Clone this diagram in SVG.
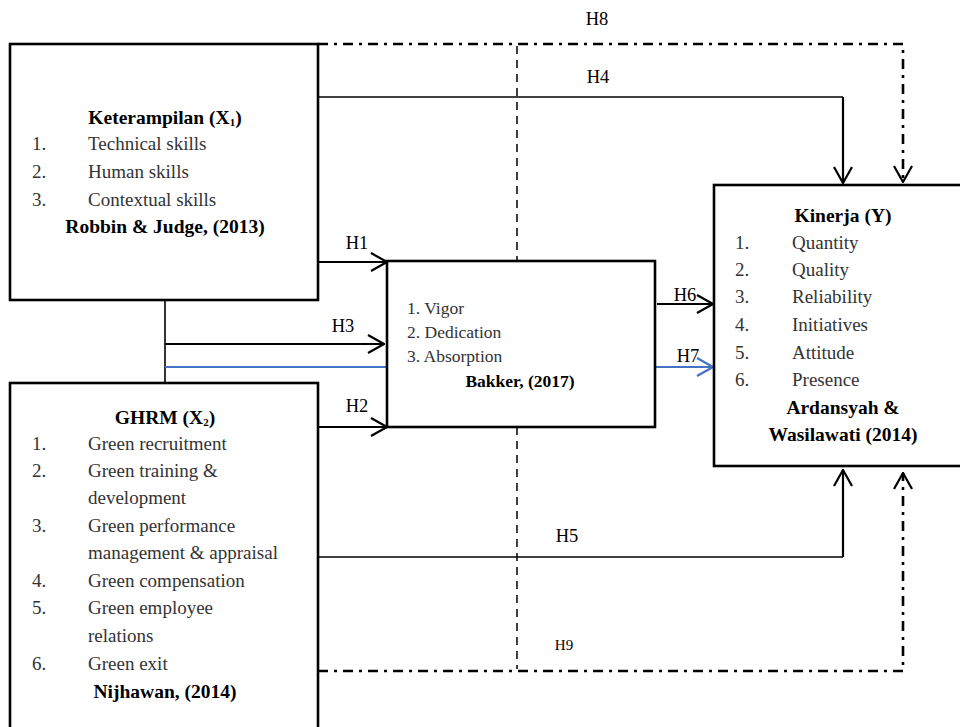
<svg xmlns="http://www.w3.org/2000/svg" width="960" height="727" viewBox="0 0 960 727">
<style>
  text { font-family: "Liberation Serif", "Times New Roman", serif; }
  .box { fill: #fff; stroke: #000; stroke-width: 2.6; }
  .item { font-size: 19px; fill: #333; }
  .head { font-size: 19.5px; font-weight: bold; fill: #000; }
  .small { font-size: 17.5px; fill: #333; }
  .smallb { font-size: 17.5px; font-weight: bold; fill: #000; }
  .lbl { font-size: 18.5px; fill: #000; }
  .ln { fill: none; stroke: #000; stroke-width: 2.2; }
  .thin { fill: none; stroke: #000; stroke-width: 1.3; }
  .blue { fill: none; stroke: #4472C4; stroke-width: 2.2; }
  .dd { fill: none; stroke: #000; stroke-width: 2.6; stroke-dasharray: 10 6 3 6; }
  .dash { fill: none; stroke: #000; stroke-width: 1.5; stroke-dasharray: 8 6; }
</style>
<defs>
  <marker id="arr" viewBox="0 0 18 20" refX="17" refY="10" markerWidth="18" markerHeight="20" markerUnits="userSpaceOnUse" orient="auto">
    <path d="M1,1 L17,10 L1,19" fill="none" stroke="#000" stroke-width="2.2"/>
  </marker>
  <marker id="arrb" viewBox="0 0 18 20" refX="17" refY="10" markerWidth="18" markerHeight="20" markerUnits="userSpaceOnUse" orient="auto">
    <path d="M1,1 L17,10 L1,19" fill="none" stroke="#4472C4" stroke-width="2.2"/>
  </marker>
</defs>

<rect width="960" height="727" fill="#fff"/>

<g id="connectors">
  <path class="dd" d="M318,44 L903,44 L903,182" marker-end="url(#arr)"/>
  <path class="dd" d="M318,671 L903,671 L903,473" marker-end="url(#arr)"/>
  <path class="dash" d="M517,46 L517,261"/>
  <path class="dash" d="M517,427 L517,669"/>
  <path class="thin" d="M318,97 L843,97"/>
  <path class="ln" d="M843,97 L843,183" marker-end="url(#arr)"/>
  <path class="thin" d="M318,557 L843,557"/>
  <path class="ln" d="M843,557 L843,470" marker-end="url(#arr)"/>
  <path class="thin" d="M165,300 L165,383" style="stroke-width:1.6"/>
  <path class="ln" d="M319,262 L387,262" marker-end="url(#arr)"/>
  <path class="ln" d="M165,344 L384,344" marker-end="url(#arr)"/>
  <path class="blue" d="M165,367 L387,367"/>
  <path class="blue" d="M655,367 L713,367" marker-end="url(#arrb)"/>
  <path class="ln" d="M319,427 L387,427" marker-end="url(#arr)"/>
  <path class="ln" d="M657,304 L713,304" marker-end="url(#arr)"/>

  <text class="lbl" x="597" y="25" text-anchor="middle">H8</text>
  <text class="lbl" x="598" y="83" text-anchor="middle">H4</text>
  <text class="lbl" x="357" y="249" text-anchor="middle">H1</text>
  <text class="lbl" x="343" y="332" text-anchor="middle">H3</text>
  <text class="lbl" x="357" y="412" text-anchor="middle">H2</text>
  <text class="lbl" x="685" y="301" text-anchor="middle">H6</text>
  <text class="lbl" x="688" y="362" text-anchor="middle">H7</text>
  <text class="lbl" x="567" y="542" text-anchor="middle">H5</text>
  <text class="lbl" x="564" y="650" text-anchor="middle" style="font-size:15px">H9</text>
</g>

<g id="x1">
  <rect class="box" x="10" y="44" width="308" height="256"/>
  <text class="head" x="165" y="124" text-anchor="middle">Keterampilan (X<tspan font-size="11" dy="2">1</tspan><tspan dy="-2">)</tspan></text>
  <text class="item" x="32" y="150">1.</text><text class="item" x="88" y="150">Technical skills</text>
  <text class="item" x="32" y="178">2.</text><text class="item" x="88" y="178">Human skills</text>
  <text class="item" x="32" y="206">3.</text><text class="item" x="88" y="206">Contextual skills</text>
  <text class="head" x="165" y="233" text-anchor="middle">Robbin &amp; Judge, (2013)</text>
</g>

<g id="x2">
  <rect class="box" x="10" y="383" width="308" height="360"/>
  <text class="head" x="165" y="424" text-anchor="middle">GHRM (X<tspan font-size="11" dy="2">2</tspan><tspan dy="-2">)</tspan></text>
  <text class="item" x="32" y="450">1.</text><text class="item" x="88" y="450">Green recruitment</text>
  <text class="item" x="32" y="477">2.</text><text class="item" x="88" y="477">Green training &amp;</text>
  <text class="item" x="88" y="504">development</text>
  <text class="item" x="32" y="532">3.</text><text class="item" x="88" y="532">Green performance</text>
  <text class="item" x="88" y="559">management &amp; appraisal</text>
  <text class="item" x="32" y="587">4.</text><text class="item" x="88" y="587">Green compensation</text>
  <text class="item" x="32" y="614">5.</text><text class="item" x="88" y="614">Green employee</text>
  <text class="item" x="88" y="642">relations</text>
  <text class="item" x="32" y="670">6.</text><text class="item" x="88" y="670">Green exit</text>
  <text class="head" x="165" y="698" text-anchor="middle">Nijhawan, (2014)</text>
</g>

<g id="mediator">
  <rect class="box" x="387" y="261" width="268" height="166"/>
  <text class="small" x="407" y="314">1. Vigor</text>
  <text class="small" x="407" y="338">2. Dedication</text>
  <text class="small" x="407" y="362">3. Absorption</text>
  <text class="smallb" x="520" y="387" text-anchor="middle">Bakker, (2017)</text>
</g>

<g id="y">
  <rect class="box" x="714" y="185" width="260" height="281"/>
  <text class="head" x="843" y="222" text-anchor="middle">Kinerja (Y)</text>
  <text class="item" x="735" y="249">1.</text><text class="item" x="792" y="249">Quantity</text>
  <text class="item" x="735" y="276">2.</text><text class="item" x="792" y="276">Quality</text>
  <text class="item" x="735" y="303">3.</text><text class="item" x="792" y="303">Reliability</text>
  <text class="item" x="735" y="331">4.</text><text class="item" x="792" y="331">Initiatives</text>
  <text class="item" x="735" y="359">5.</text><text class="item" x="792" y="359">Attitude</text>
  <text class="item" x="735" y="386">6.</text><text class="item" x="792" y="386">Presence</text>
  <text class="head" x="843" y="414" text-anchor="middle">Ardansyah &amp;</text>
  <text class="head" x="843" y="441" text-anchor="middle">Wasilawati (2014)</text>
</g>
</svg>
